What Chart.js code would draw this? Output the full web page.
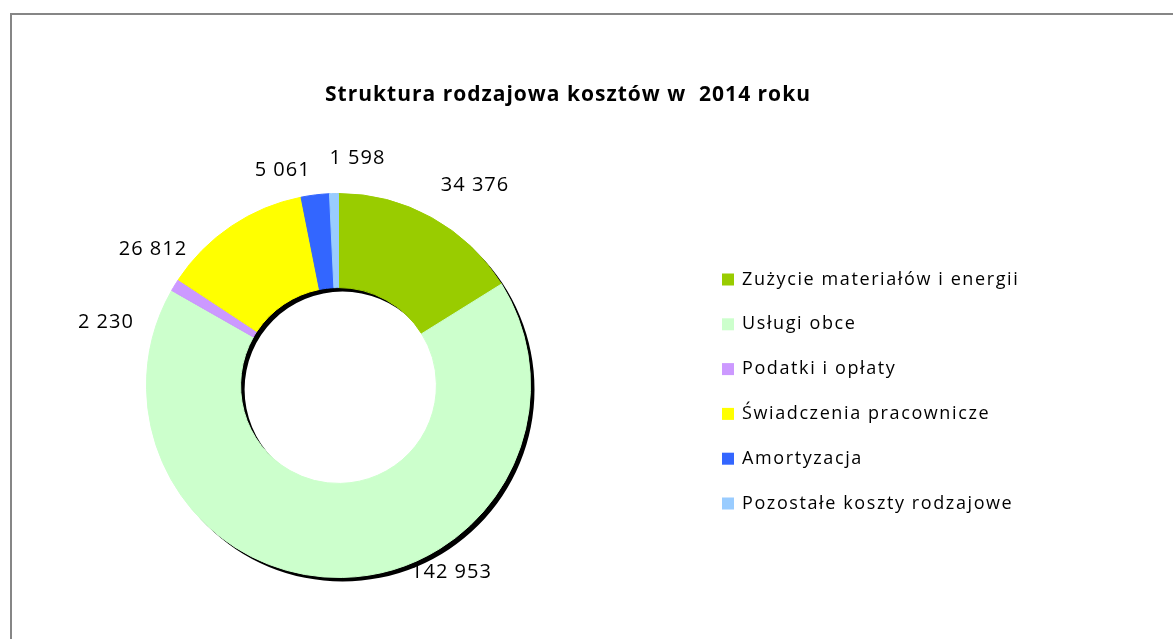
<!DOCTYPE html>
<html>
<head>
<meta charset="utf-8">
<script src="https://cdn.jsdelivr.net/npm/chart.js@4/dist/chart.umd.min.js"></script>
<style>
  html, body { margin: 0; padding: 0; background: #fff; }
  #wrap { position: relative; width: 1173px; height: 639px; overflow: hidden; }
  #frame { position: absolute; left: 10px; top: 13px; right: -10px; bottom: -10px; border-left: 2px solid #868686; border-top: 2px solid #868686; }
  #chart { position: absolute; left: 0; top: 0; }
</style>
</head>
<body>
<div id="wrap">
  <div id="frame"></div>
  <canvas id="chart" width="1173" height="639"></canvas>
</div>
<script>
const chartTitle = "Struktura rodzajowa kosztów w  2014 roku";
const categories = [
  "Zużycie materiałów i energii",
  "Usługi obce",
  "Podatki i opłaty",
  "Świadczenia pracownicze",
  "Amortyzacja",
  "Pozostałe koszty rodzajowe"
];
const costs = [34376, 142953, 2230, 26812, 5061, 1598];
const colors = ["#99cc00", "#ccffcc", "#cc99ff", "#ffff00", "#3366ff", "#99ccff"];

function fmt(v) {
  return String(v).replace(/\B(?=(\d{3})+(?!\d))/g, " ");
}

// black drop shadow under the ring (Excel style)
const ringShadow = {
  id: "ringShadow",
  beforeDatasetsDraw(chart, args, opts) {
    const arc = chart.getDatasetMeta(0).data[0];
    if (!arc) return;
    const ctx = chart.ctx;
    ctx.save();
    ctx.fillStyle = "#000";
    ctx.beginPath();
    ctx.arc(arc.x + opts.dx, arc.y + opts.dy, arc.outerRadius, 0, Math.PI * 2);
    ctx.arc(arc.x + opts.dx, arc.y + opts.dy, arc.innerRadius, 0, Math.PI * 2, true);
    ctx.fill();
    ctx.restore();
  }
};

// value labels outside the slices
const outLabels = {
  id: "outLabels",
  afterDatasetsDraw(chart, args, opts) {
    const ctx = chart.ctx;
    const meta = chart.getDatasetMeta(0);
    ctx.save();
    ctx.font = opts.font;
    ctx.letterSpacing = opts.spacing;
    ctx.fillStyle = "#000";
    ctx.textAlign = "center";
    ctx.textBaseline = "middle";
    meta.data.forEach((arc, i) => {
      const mid = (arc.startAngle + arc.endAngle) / 2 + opts.shift[i] * Math.PI / 180;
      const r = arc.outerRadius + opts.gap[i];
      ctx.fillText(fmt(chart.data.datasets[0].data[i]), arc.x + Math.cos(mid) * r, arc.y + Math.sin(mid) * r);
    });
    ctx.restore();
  }
};

// title + legend on the right
const sideLegend = {
  id: "sideLegend",
  afterDraw(chart, args, opts) {
    const ctx = chart.ctx;
    ctx.save();
    ctx.fillStyle = "#000";
    ctx.font = opts.titleFont;
    ctx.letterSpacing = opts.titleSpacing;
    ctx.textAlign = "center";
    ctx.textBaseline = "middle";
    ctx.fillText(chartTitle, opts.titleX, opts.titleY);
    ctx.textAlign = "left";
    ctx.font = opts.font;
    ctx.letterSpacing = opts.spacing;
    const ds = chart.data.datasets[0];
    chart.data.labels.forEach((lbl, i) => {
      const y = opts.top + i * opts.step;
      ctx.fillStyle = ds.backgroundColor[i];
      ctx.fillRect(opts.left, y - 6, 12, 12);
      ctx.fillStyle = "#000";
      ctx.fillText(lbl, opts.left + 20, y);
    });
    ctx.restore();
  }
};

new Chart(document.getElementById("chart").getContext("2d"), {
  type: "doughnut",
  data: {
    labels: categories,
    datasets: [{
      data: costs,
      backgroundColor: colors,
      borderColor: colors,
      borderWidth: 1,
      hoverOffset: 0
    }]
  },
  options: {
    responsive: false,
    animation: false,
    events: [],
    cutout: "51%",
    layout: { padding: { left: 146, right: 642, top: 193, bottom: 61 } },
    plugins: {
      legend: { display: false },
      title: { display: false },
      tooltip: { enabled: false },
      ringShadow: { dx: 4, dy: 4 },
      outLabels: {
        font: "20px 'Open Sans'",
        spacing: "1px",
        shift: [5.3, -30.1, -16.4, -19.9, -7.6, 6.1],
        gap: [50, 26, 49, 38, 30, 36]
      },
      sideLegend: {
        titleFont: "bold 21px 'Open Sans'",
        titleSpacing: "1px",
        titleX: 568, titleY: 95,
        font: "18px 'Open Sans'",
        spacing: "1.6px",
        left: 722, top: 279.5, step: 44.8
      }
    }
  },
  plugins: [ringShadow, outLabels, sideLegend]
});
</script>
</body>
</html>
